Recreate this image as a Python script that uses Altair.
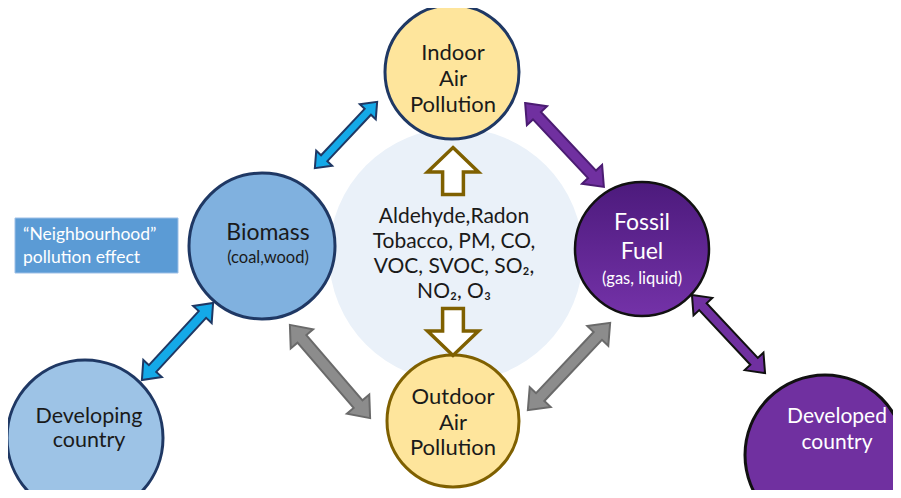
import altair as alt
import pandas as pd

# ---------------- data ----------------
node_names = ["Indoor", "Outdoor", "Biomass", "Developing", "Fossil", "Developed"]
node_x = [452, 453, 262, 85, 642, 825]
node_y = [72, 421, 246, 438, 249, 455]
node_r = [67, 66, 73, 78, 67, 80]
node_fill = ["#FEE59C", "#FEE59C", "#80B1DF", "#9DC3E6", "#5E2491", "#7030A0"]
node_stroke = ["#1F3864", "#7F6000", "#1F3864", "#1F3864", "#111111", "#111111"]

arrow_names = ["Biomass-Indoor", "Biomass-Developing", "Biomass-Outdoor",
               "Indoor-Fossil", "Fossil-Outdoor", "Fossil-Developed"]
arrow_x = [346, 177.5, 330, 564.5, 569, 728.5]
arrow_y = [135, 341.5, 371.5, 145, 366.5, 334]
arrow_len = [91, 105, 123, 115, 120, 107]
arrow_angle = [133.2, 132.7, 49.3, 46.8, 133.3, 46.9]
arrow_fill = ["#14A9E8", "#14A9E8", "#8C8C8C", "#7030A0", "#8C8C8C", "#7030A0"]
arrow_stroke = ["#1F3864", "#1F3864", "#6A6A6A", "#4B1C72", "#6A6A6A", "#111111"]

hollow_x = [453, 453]
hollow_y = [171, 332]
hollow_angle = [0, 180]

label_text = ["Indoor", "Air", "Pollution",
              "Outdoor", "Air", "Pollution",
              "Biomass", "(coal,wood)",
              "Developing", "country",
              "Fossil", "Fuel", "(gas, liquid)",
              "Developed", "country",
              "Aldehyde,Radon", "Tobacco, PM, CO,", "VOC, SVOC, SO\u2082,", "NO\u2082, O\u2083"]
label_x = [453, 453, 453,
           453, 453, 453,
           268, 268,
           89, 89,
           642, 642, 642,
           837, 837,
           454, 454, 454, 454]
label_y = [53, 79, 105,
           397, 423, 448,
           233, 258,
           417, 441,
           223, 252, 279,
           417, 443,
           217, 242, 267, 292]
label_size = [22, 22, 22,
              22, 22, 22,
              23, 16.5,
              21.5, 21.5,
              23, 23, 16.5,
              21, 21,
              21, 21, 21, 21]
label_color = ["#1a1a1a"] * 10 + ["#FFFFFF"] * 5 + ["#1a1a1a"] * 4

box_text = ["\u201cNeighbourhood\u201d", "pollution effect"]
box_text_y = [235, 258]

# ---------------- helpers ----------------
W, H = 885, 482
xs = alt.Scale(domain=[8, 8 + W], nice=False, zero=False)
ys = alt.Scale(domain=[8 + H, 8], nice=False, zero=False)
X = lambda f: alt.X(f, type="quantitative", scale=xs, axis=None)
Y = lambda f: alt.Y(f, type="quantitative", scale=ys, axis=None)

nodes = pd.DataFrame({"name": node_names, "x": node_x, "y": node_y, "r": node_r,
                      "fill": node_fill, "stroke": node_stroke})
nodes["size"] = (2 * nodes["r"]) ** 2

arrows = pd.DataFrame({"name": arrow_names, "x": arrow_x, "y": arrow_y, "len": arrow_len,
                       "angle": arrow_angle, "fill": arrow_fill, "stroke": arrow_stroke})
arrows["size"] = arrows["len"] ** 2

hollow = pd.DataFrame({"x": hollow_x, "y": hollow_y, "angle": hollow_angle})
labels = pd.DataFrame({"text": label_text, "x": label_x, "y": label_y,
                       "size": label_size, "color": label_color})
box = pd.DataFrame({"x": [15], "x2": [178], "y": [218], "y2": [273]})
boxlab = pd.DataFrame({"text": box_text, "x": [23, 23], "y": box_text_y})
halo = pd.DataFrame({"x": [456], "y": [255], "size": [254 ** 2]})

double_arrow = ("M-1,0 L-0.7,-0.24 L-0.7,-0.095 L0.7,-0.095 L0.7,-0.24 L1,0 "
                "L0.7,0.24 L0.7,0.095 L-0.7,0.095 L-0.7,0.24 Z")
up_arrow = ("M0,-0.9 L0.98,0.04 L0.4,0.04 L0.4,0.9 L-0.4,0.9 L-0.4,0.04 L-0.98,0.04 Z")

FONT = "Lato"

halo_layer = alt.Chart(halo).mark_point(shape="circle", filled=True, fill="#EAF1F9",
                                        stroke=None, opacity=1, clip=True).encode(
    x=X("x"), y=Y("y"), size=alt.Size("size:Q", scale=None, legend=None))

plain_nodes = nodes[nodes["name"] != "Fossil"]
node_layer = alt.Chart(plain_nodes).mark_point(shape="circle", filled=True, opacity=1,
                                               strokeWidth=3, clip=True).encode(
    x=X("x"), y=Y("y"),
    size=alt.Size("size:Q", scale=None, legend=None),
    fill=alt.Fill("fill:N", scale=None, legend=None),
    stroke=alt.Stroke("stroke:N", scale=None, legend=None))

fossil_grad = alt.LinearGradient(
    gradient="linear", x1=0, y1=0, x2=0, y2=1,
    stops=[alt.GradientStop(offset=0, color="#4C1A7C"),
           alt.GradientStop(offset=1, color="#7432A8")])
fossil_layer = alt.Chart(nodes[nodes["name"] == "Fossil"]).mark_point(
    shape="circle", filled=True, opacity=1, fill=fossil_grad, stroke="#111111",
    strokeWidth=2.5, clip=True).encode(
    x=X("x"), y=Y("y"), size=alt.Size("size:Q", scale=None, legend=None))

arrow_layer = alt.Chart(arrows).mark_point(shape=double_arrow, filled=True, opacity=1,
                                           strokeWidth=2, clip=True).encode(
    x=X("x"), y=Y("y"),
    size=alt.Size("size:Q", scale=None, legend=None),
    angle=alt.Angle("angle:Q", scale=None),
    fill=alt.Fill("fill:N", scale=None, legend=None),
    stroke=alt.Stroke("stroke:N", scale=None, legend=None))

hollow_layer = alt.Chart(hollow).mark_point(shape=up_arrow, filled=True, opacity=1,
                                            fill="white", stroke="#7F6000",
                                            strokeWidth=3.5, size=52 ** 2).encode(
    x=X("x"), y=Y("y"), angle=alt.Angle("angle:Q", scale=None))

text_layer = alt.Chart(labels).mark_text(font=FONT, align="center", baseline="middle").encode(
    x=X("x"), y=Y("y"), text="text:N",
    size=alt.Size("size:Q", scale=None, legend=None),
    color=alt.Color("color:N", scale=None, legend=None))

box_layer = alt.Chart(box).mark_rect(fill="#5B9BD5", stroke="#9DBFE6", strokeWidth=1).encode(
    x=X("x"), x2="x2", y=Y("y"), y2="y2")

box_text_layer = alt.Chart(boxlab).mark_text(font=FONT, align="left", baseline="middle",
                                             fontSize=17.5, color="white").encode(
    x=X("x"), y=Y("y"), text="text:N")

chart = alt.layer(halo_layer, node_layer, fossil_layer, arrow_layer, hollow_layer,
                  box_layer, box_text_layer, text_layer).properties(
    width=W, height=H, padding=0, autosize=alt.AutoSizeParams(type="none"),
    background="white"
).configure_view(stroke=None)

chart.save("out.html", embed_options={"renderer": "svg", "actions": False})
